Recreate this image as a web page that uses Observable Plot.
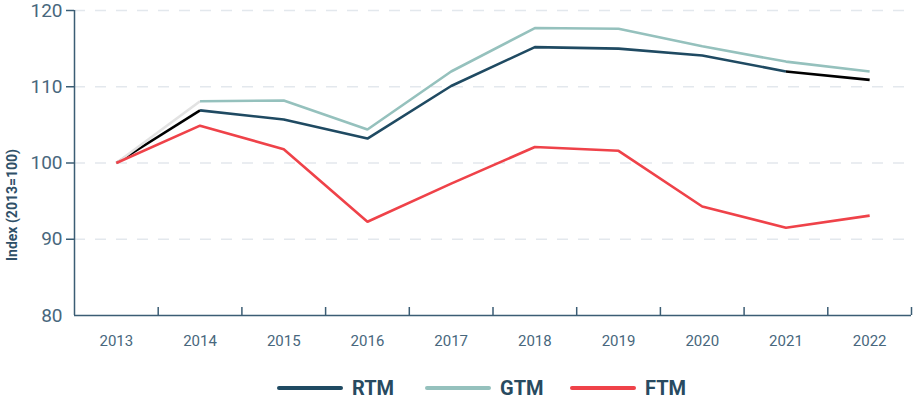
<!DOCTYPE html>
<html>
<head>
<meta charset="utf-8">
<script src="https://cdn.jsdelivr.net/npm/d3@7"></script>
<script src="https://cdn.jsdelivr.net/npm/@observablehq/plot@0.6"></script>
<style>
  html, body { margin: 0; padding: 0; background: #fff; }
  body { width: 914px; height: 405px; overflow: hidden; font-family: Roboto, "Open Sans", sans-serif; }
  #chart { position: relative; width: 914px; }
  #ylabel { position: absolute; left: 12px; top: 205px; transform: translate(-50%, -50%) rotate(-90deg);
            font: 700 14px Roboto, sans-serif; color: #2f5068; white-space: nowrap; }
  #legend { position: relative; width: 914px; height: 50px; }
  .item { position: absolute; top: 22px; display: flex; align-items: center; }
  .sw { width: 66px; height: 4px; border-radius: 2px; margin-right: 9px; }
  .lt { font: 700 20px Roboto, sans-serif; color: #284a60; line-height: 22px; }
</style>
</head>
<body>
<div id="chart"><div id="ylabel">Index (2013=100)</div></div>
<div id="legend"></div>
<script>
const years = [2013, 2014, 2015, 2016, 2017, 2018, 2019, 2020, 2021, 2022];
const seriesNames = ["RTM", "GTM", "FTM"];
const rtm = [100, 106.9, 105.7, 103.2, 110.1, 115.2, 115.0, 114.1, 112.0, 110.9];
const gtm = [100, 108.1, 108.2, 104.4, 112.0, 117.7, 117.6, 115.3, 113.3, 112.0];
const ftm = [100, 104.9, 101.8, 92.3, 97.3, 102.1, 101.6, 94.3, 91.5, 93.1];
const yTicks = [80, 90, 100, 110, 120];

const colors = { RTM: "#1f4a62", GTM: "#95c1bd", FTM: "#ef4249" };
const values = { RTM: rtm, GTM: gtm, FTM: ftm };

const data = seriesNames.flatMap(s => years.map((yr, i) => ({ series: s, year: yr, value: values[s][i], idx: i })));

// segment colouring quirks seen in the reference (segment starts at point idx)
function segColor(d) {
  const last = years.length - 1;
  if (d.series === "RTM" && (d.idx === 0 || d.idx === last - 1)) return "#000000";
  if (d.series === "GTM" && d.idx === 0) return "#e2e2e2";
  return colors[d.series];
}

const boundaries = years.slice(1).map(y => y - 0.5).concat([years[years.length - 1] + 0.5]);
const axisColor = "#3b5d74";
const labelColor = "#48677d";

const plot = Plot.plot({
  width: 914,
  height: 355,
  marginLeft: 74,
  marginRight: 3,
  marginTop: 10,
  marginBottom: 40,
  style: { fontFamily: "Roboto, sans-serif", background: "#fff", overflow: "visible" },
  x: { domain: [years[0] - 0.5, years[years.length - 1] + 0.5], axis: null },
  y: { domain: [80, 120], axis: null },
  marks: [
    Plot.ruleY(yTicks.slice(1), { stroke: "#e3e8ed", strokeWidth: 1.5, strokeDasharray: "11,10" }),
    Plot.line(data, { x: "year", y: "value", z: "series", stroke: segColor, strokeWidth: 2.6, strokeLinejoin: "miter", strokeLinecap: "butt" }),
    Plot.ruleY([80], { stroke: axisColor, strokeWidth: 1.5 }),
    Plot.ruleX([years[0] - 0.5], { y1: 80, y2: 120, stroke: axisColor, strokeWidth: 1.5 }),
    Plot.ruleX(boundaries, { y1: 80, y2: 80, insetTop: -8, stroke: axisColor, strokeWidth: 1.5 }),
    Plot.axisX({ ticks: years, tickFormat: d => String(d), tickSize: 0, tickPadding: 20, fontSize: 15, color: labelColor, label: null }),
    Plot.axisY({ ticks: yTicks, tickSize: 0, tickPadding: 12, fontSize: 19, color: labelColor, label: null }),
    Plot.axisY({ ticks: yTicks.slice(1), tickSize: 8, tickFormat: () => "", stroke: axisColor, strokeWidth: 1.5, label: null })
  ]
});
document.getElementById("chart").appendChild(plot);

const legendPos = { RTM: 277, GTM: 425, FTM: 570 };
const legend = document.getElementById("legend");
seriesNames.forEach(s => {
  const it = document.createElement("div");
  it.className = "item";
  it.style.left = legendPos[s] + "px";
  it.innerHTML = `<div class="sw" style="background:${colors[s]}"></div><span class="lt">${s}</span>`;
  legend.appendChild(it);
});
</script>
</body>
</html>
